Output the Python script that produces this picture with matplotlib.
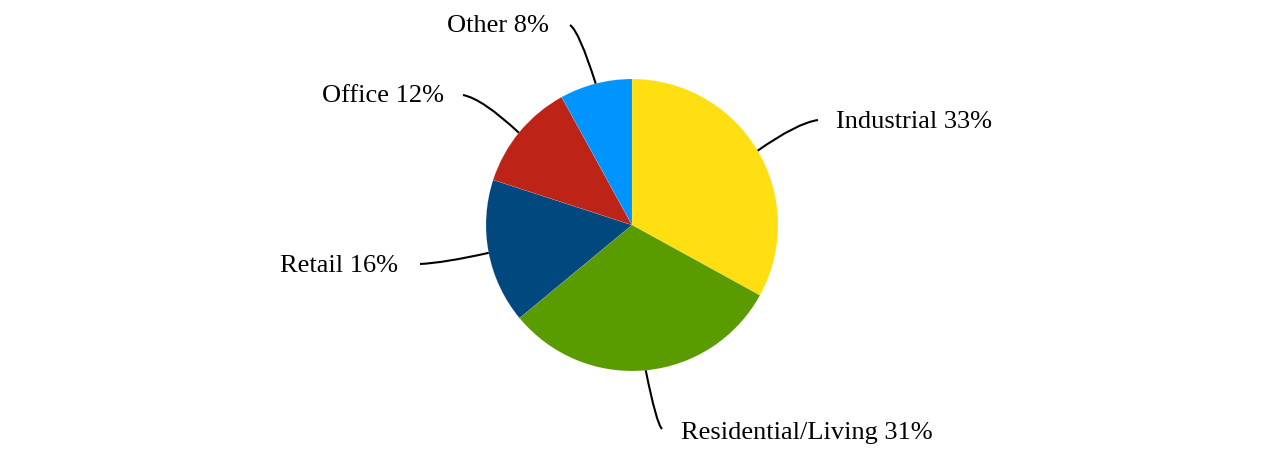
import matplotlib
matplotlib.use("Agg")
import matplotlib.pyplot as plt
import numpy as np
from matplotlib.path import Path
from matplotlib.patches import PathPatch

categories = ["Industrial", "Residential/Living", "Retail", "Office", "Other"]
values = [33, 31, 16, 12, 8]
colors = ["#FFDF12", "#5A9B00", "#00487E", "#BE2317", "#0094FF"]

# layout (pixel coordinates, y from top)
center_px = (632, 225)
radius_px = 146
anchor_angles = [30.6, -84.6, -169.0, 140.8, 104.4]
conn_start = [(818, 120), (662, 429), (420, 264), (463, 95), (570, 25)]
text_pos = [(836, 122, "left"), (681, 433, "left"), (398, 266, "right"),
            (444, 96, "right"), (549, 26, "right")]

W, H = 1264, 450
fig = plt.figure(figsize=(W / 100, H / 100), dpi=100)
ax = fig.add_axes([0, 0, 1, 1])

cx, cy = center_px[0], H - center_px[1]
ax.pie(values, colors=colors, startangle=90, counterclock=False,
       center=(cx, cy), radius=radius_px, frame=True,
       wedgeprops=dict(linewidth=0.3, edgecolor=(1, 1, 1, 0.25)))
ax.set_xlim(0, W)
ax.set_ylim(0, H)
ax.set_aspect("equal")
ax.axis("off")

for cat, val, ang, (sx, sy), (tx, ty, ha) in zip(categories, values, anchor_angles, conn_start, text_pos):
    a = np.deg2rad(ang)
    ex = cx + radius_px * np.cos(a)
    ey = cy + radius_px * np.sin(a)
    sy_d = H - sy
    ctrl = (sx + 0.35 * (ex - sx), sy_d + 0.1 * (ey - sy_d))
    path = Path([(sx, sy_d), ctrl, (ex, ey)], [Path.MOVETO, Path.CURVE3, Path.CURVE3])
    ax.add_patch(PathPatch(path, facecolor="none", edgecolor="black", linewidth=1.5))
    ax.text(tx, H - ty, f"{cat} {val}%", ha=ha, va="center",
            fontsize=19, family="Liberation Serif", color="black")

fig.savefig("out.png", dpi=100)
